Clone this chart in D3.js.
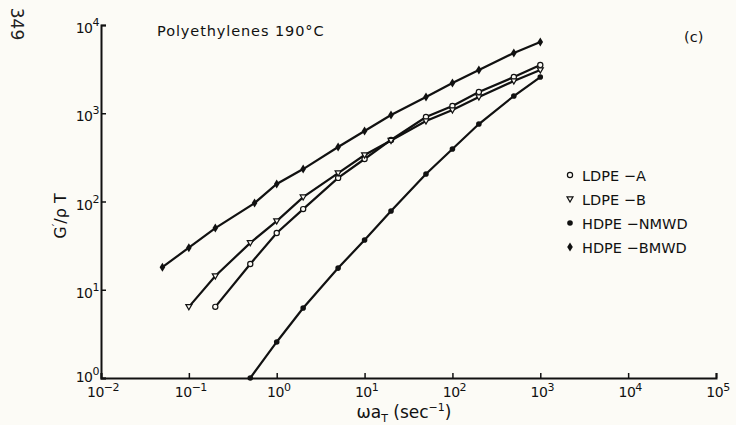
<!DOCTYPE html>
<html><head><meta charset="utf-8">
<script src="https://cdn.jsdelivr.net/npm/d3@7/dist/d3.min.js"></script>
<style>
html,body{margin:0;padding:0;background:#fcfbf6;}
svg{display:block;font-family:"DejaVu Sans",sans-serif;}
</style></head>
<body>
<svg id="c" width="736" height="425"></svg>
<script>
// ---- data ----
const xTickExps = [-2, -1, 0, 1, 2, 3, 4, 5];
const yTickExps = [0, 1, 2, 3, 4];

const ldpeA_x = [0.2, 0.5, 1, 2, 5, 10, 20, 50, 100, 200, 500, 1000];
const ldpeA_y = [6.4, 19.6, 44, 82, 185, 303, 498, 907, 1208, 1740, 2570, 3520];

const ldpeB_x = [0.1, 0.2, 0.5, 1, 2, 5, 10, 20, 50, 100, 200, 500, 1000];
const ldpeB_y = [6.4, 14.3, 34, 60, 112, 210, 336, 490, 817, 1088, 1528, 2320, 3090];

const nmwd_x = [0.5, 1, 2, 5, 10, 20, 50, 100, 200, 500, 1000];
const nmwd_y = [1.0, 2.56, 6.2, 17.6, 36.6, 78, 205, 393, 755, 1568, 2570];

const bmwd_x = [0.05, 0.1, 0.2, 0.56, 1, 2, 5, 10, 20, 50, 100, 200, 500, 1000];
const bmwd_y = [18, 30, 50, 96, 158, 233, 415, 630, 955, 1528, 2200, 3090, 4820, 6420];

const seriesNames = ["LDPE \u2212A", "LDPE \u2212B", "HDPE \u2212NMWD", "HDPE \u2212BMWD"];

// ---- drawing ----
const svg = d3.select("#c");
const x = d3.scaleLog().domain([1e-2, 1e5]).range([101, 716]);
const y = d3.scaleLog().domain([1, 1e4]).range([378, 25]);

const series = [
  {name: seriesNames[0], xs: ldpeA_x, ys: ldpeA_y, marker: "openCircle"},
  {name: seriesNames[1], xs: ldpeB_x, ys: ldpeB_y, marker: "openTri"},
  {name: seriesNames[2], xs: nmwd_x, ys: nmwd_y, marker: "filledCircle"},
  {name: seriesNames[3], xs: bmwd_x, ys: bmwd_y, marker: "diamond"}
];

// axes
const gx = svg.append("g").attr("transform", "translate(0,378)")
  .call(d3.axisBottom(x).tickValues(xTickExps.map(e => Math.pow(10, e))).tickSize(-5).tickFormat(""));
const gy = svg.append("g").attr("transform", "translate(101,0)")
  .call(d3.axisLeft(y).tickValues(yTickExps.map(e => Math.pow(10, e))).tickSize(-5).tickFormat(""));
[gx, gy].forEach(g => {
  g.select(".domain").attr("stroke", "#111").attr("stroke-width", 2);
  g.selectAll(".tick line").attr("stroke", "#111").attr("stroke-width", 1.5);
});

// tick labels
xTickExps.forEach(e => {
  const t = svg.append("text").attr("x", x(Math.pow(10, e)) + 2).attr("y", 397)
    .attr("text-anchor", "middle").attr("font-size", 14).attr("fill", "#111").attr("letter-spacing", -0.5);
  t.append("tspan").text("10");
  t.append("tspan").attr("dy", -6).attr("font-size", 11).text(e < 0 ? "\u2212" + (-e) : String(e));
});
yTickExps.forEach(e => {
  const t = svg.append("text").attr("x", 99).attr("y", y(Math.pow(10, e)) + (e === 0 ? 4 : 8))
    .attr("text-anchor", "end").attr("font-size", 14).attr("fill", "#111").attr("letter-spacing", -0.5);
  t.append("tspan").text("10");
  t.append("tspan").attr("dy", -7).attr("font-size", 11).text(String(e));
});

// lines
const line = d3.line().x(d => x(d[0])).y(d => y(d[1]));
series.forEach(s => {
  const pts = s.xs.map((v, i) => [v, s.ys[i]]);
  svg.append("path").attr("d", line(pts)).attr("fill", "none")
    .attr("stroke", "#111").attr("stroke-width", 2.2);
});

function drawMarker(g, type, cx, cy) {
  if (type === "openCircle") {
    g.append("circle").attr("cx", cx).attr("cy", cy).attr("r", 2.6)
      .attr("fill", "#fcfbf6").attr("stroke", "#111").attr("stroke-width", 1.2);
  } else if (type === "openTri") {
    g.append("path").attr("d", `M${cx-3},${cy-2.2}L${cx+3},${cy-2.2}L${cx},${cy+3}Z`)
      .attr("fill", "#fcfbf6").attr("stroke", "#111").attr("stroke-width", 1.2);
  } else if (type === "filledCircle") {
    g.append("circle").attr("cx", cx).attr("cy", cy).attr("r", 2.8).attr("fill", "#111");
  } else {
    g.append("path").attr("d", `M${cx},${cy-4.5}L${cx+2.8},${cy}L${cx},${cy+4.5}L${cx-2.8},${cy}Z`)
      .attr("fill", "#111");
  }
}
series.forEach(s => {
  const g = svg.append("g");
  s.xs.forEach((v, i) => drawMarker(g, s.marker, x(v), y(s.ys[i])));
});

// legend
series.forEach((s, i) => {
  const cy = 175 + i * 24;
  drawMarker(svg, s.marker, 570, cy);
  svg.append("text").attr("x", 582).attr("y", cy + 5.5).attr("font-size", 14.5)
    .attr("fill", "#111").text(s.name);
});

// titles & labels
svg.append("text").attr("x", 157).attr("y", 36).attr("font-size", 14.5)
  .attr("letter-spacing", 0.9).attr("fill", "#111").text("Polyethylenes  190\u00b0C");
svg.append("text").attr("x", 684).attr("y", 42).attr("font-size", 14.5).attr("fill", "#111").text("(c)");

const xl = svg.append("text").attr("x", 404).attr("y", 418).attr("text-anchor", "middle")
  .attr("font-size", 17).attr("fill", "#111");
xl.append("tspan").text("\u03c9a");
xl.append("tspan").attr("dy", 4).attr("font-size", 11).text("T");
xl.append("tspan").attr("dy", -4).text(" (sec");
xl.append("tspan").attr("dy", -7).attr("font-size", 11).text("\u22121");
xl.append("tspan").attr("dy", 7).text(")");

const yl = svg.append("text").attr("transform", "translate(66,216) rotate(-90)")
  .attr("text-anchor", "middle").attr("font-size", 16).attr("fill", "#111");
yl.append("tspan").text("G");
yl.append("tspan").attr("dy", -6).attr("font-size", 11).text("\u2032");
yl.append("tspan").attr("dy", 6).text("/\u03c1 T");

svg.append("text").attr("transform", "translate(17,24) rotate(90)")
  .attr("text-anchor", "middle").attr("dominant-baseline", "central")
  .attr("font-size", 17).attr("fill", "#222").text("349");
</script>
</body></html>
